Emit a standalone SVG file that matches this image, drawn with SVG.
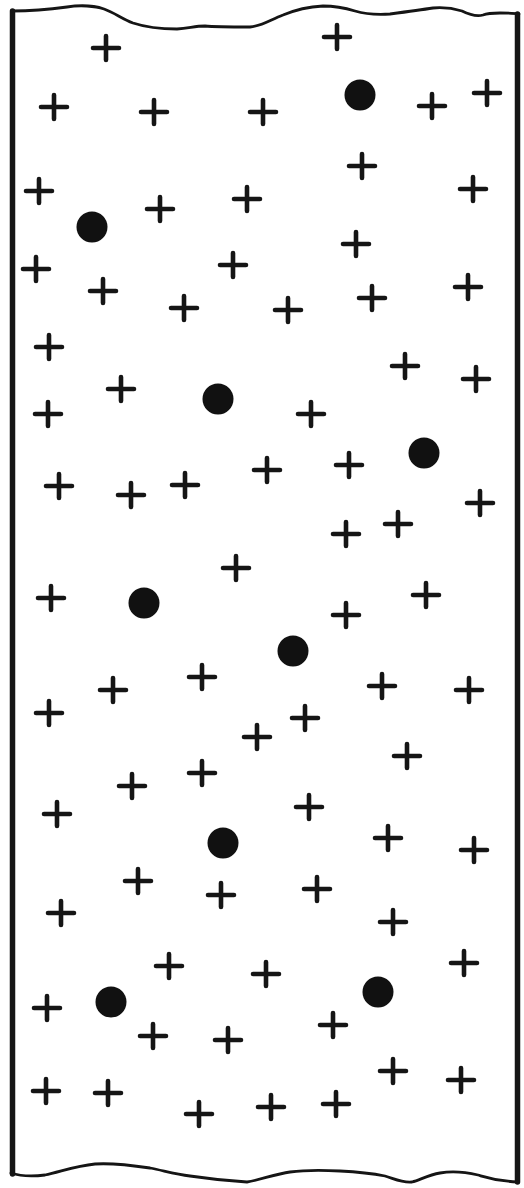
<svg xmlns="http://www.w3.org/2000/svg" xmlns:xlink="http://www.w3.org/1999/xlink" width="524" height="1188" viewBox="0 0 524 1188">
<style>
.edge{fill:none;stroke:#151515;stroke-linecap:round;stroke-linejoin:round}
.side{stroke-width:5.5}
.wave{stroke-width:2.8}
.p{stroke:#151515;stroke-width:4.6;stroke-linecap:round;fill:none}
.dot{fill:#111}
</style>
<defs>
<path id="plus" class="p" d="M-13,0 H13 M0,-12 V12"/>
</defs>
<rect width="524" height="1188" fill="#fff"/>
<g id="strip">
<path class="edge side" d="M12.5,11 V1174"/>
<path class="edge side" d="M517.5,14 V1182"/>
<path class="edge wave" d="M12,11 C30,11 45,10 67,7 C80,5 95,6 104,9 C115,13 122,19 133,23 C145,27 160,29 177,29 C190,28 195,26 205,26 C215,27 235,27 250,27 C262,26 270,20 283,15 C295,10 305,7 323,6 C335,6 345,8 355,11 C365,14 375,15 390,14 C405,12 420,10 433,8 C445,7 452,8 462,11 C468,14 476,17 483,15 C488,13 492,13 500,13 C508,13 514,13 519,14"/>
<path class="edge wave" d="M11,1173 C20,1176 30,1177 45,1175 C60,1172 75,1166 95,1164 C110,1163 130,1165 150,1168 C165,1171 175,1174 190,1176 C210,1179 230,1181 247,1182 C260,1180 275,1174 290,1172 C305,1170 320,1170 340,1171 C360,1172 375,1174 385,1176 C395,1179 402,1183 412,1182 C420,1180 428,1175 440,1173 C452,1171 465,1172 478,1175 C488,1178 496,1181 518,1182"/>
</g>
<g id="plus-charges">
<use xlink:href="#plus" x="106" y="48"/>
<use xlink:href="#plus" x="337" y="37"/>
<use xlink:href="#plus" x="54" y="107"/>
<use xlink:href="#plus" x="154" y="112"/>
<use xlink:href="#plus" x="263" y="112"/>
<use xlink:href="#plus" x="432" y="106"/>
<use xlink:href="#plus" x="487" y="93"/>
<use xlink:href="#plus" x="362" y="166"/>
<use xlink:href="#plus" x="39" y="191"/>
<use xlink:href="#plus" x="473" y="189"/>
<use xlink:href="#plus" x="160" y="209"/>
<use xlink:href="#plus" x="247" y="199"/>
<use xlink:href="#plus" x="36" y="269"/>
<use xlink:href="#plus" x="233" y="265"/>
<use xlink:href="#plus" x="356" y="244"/>
<use xlink:href="#plus" x="103" y="291"/>
<use xlink:href="#plus" x="184" y="308"/>
<use xlink:href="#plus" x="288" y="310"/>
<use xlink:href="#plus" x="372" y="298"/>
<use xlink:href="#plus" x="468" y="287"/>
<use xlink:href="#plus" x="49" y="347"/>
<use xlink:href="#plus" x="405" y="366"/>
<use xlink:href="#plus" x="476" y="379"/>
<use xlink:href="#plus" x="121" y="389"/>
<use xlink:href="#plus" x="48" y="414"/>
<use xlink:href="#plus" x="311" y="414"/>
<use xlink:href="#plus" x="59" y="486"/>
<use xlink:href="#plus" x="131" y="495"/>
<use xlink:href="#plus" x="185" y="485"/>
<use xlink:href="#plus" x="267" y="470"/>
<use xlink:href="#plus" x="349" y="465"/>
<use xlink:href="#plus" x="480" y="503"/>
<use xlink:href="#plus" x="346" y="534"/>
<use xlink:href="#plus" x="398" y="524"/>
<use xlink:href="#plus" x="236" y="568"/>
<use xlink:href="#plus" x="51" y="598"/>
<use xlink:href="#plus" x="426" y="595"/>
<use xlink:href="#plus" x="346" y="615"/>
<use xlink:href="#plus" x="202" y="677"/>
<use xlink:href="#plus" x="113" y="690"/>
<use xlink:href="#plus" x="382" y="686"/>
<use xlink:href="#plus" x="469" y="690"/>
<use xlink:href="#plus" x="49" y="713"/>
<use xlink:href="#plus" x="305" y="718"/>
<use xlink:href="#plus" x="257" y="737"/>
<use xlink:href="#plus" x="407" y="756"/>
<use xlink:href="#plus" x="202" y="773"/>
<use xlink:href="#plus" x="132" y="786"/>
<use xlink:href="#plus" x="57" y="814"/>
<use xlink:href="#plus" x="309" y="807"/>
<use xlink:href="#plus" x="388" y="838"/>
<use xlink:href="#plus" x="474" y="850"/>
<use xlink:href="#plus" x="138" y="881"/>
<use xlink:href="#plus" x="221" y="895"/>
<use xlink:href="#plus" x="317" y="889"/>
<use xlink:href="#plus" x="61" y="913"/>
<use xlink:href="#plus" x="393" y="922"/>
<use xlink:href="#plus" x="169" y="966"/>
<use xlink:href="#plus" x="266" y="974"/>
<use xlink:href="#plus" x="464" y="963"/>
<use xlink:href="#plus" x="47" y="1008"/>
<use xlink:href="#plus" x="153" y="1036"/>
<use xlink:href="#plus" x="228" y="1040"/>
<use xlink:href="#plus" x="333" y="1025"/>
<use xlink:href="#plus" x="393" y="1071"/>
<use xlink:href="#plus" x="461" y="1080"/>
<use xlink:href="#plus" x="46" y="1091"/>
<use xlink:href="#plus" x="108" y="1093"/>
<use xlink:href="#plus" x="199" y="1114"/>
<use xlink:href="#plus" x="271" y="1107"/>
<use xlink:href="#plus" x="336" y="1104"/>
</g>
<g id="dots">
<circle class="dot" cx="360" cy="95" r="15.5"/>
<circle class="dot" cx="92" cy="227" r="15.5"/>
<circle class="dot" cx="218" cy="399" r="15.5"/>
<circle class="dot" cx="424" cy="453" r="15.5"/>
<circle class="dot" cx="144" cy="603" r="15.5"/>
<circle class="dot" cx="293" cy="651" r="15.5"/>
<circle class="dot" cx="223" cy="843" r="15.5"/>
<circle class="dot" cx="111" cy="1002" r="15.5"/>
<circle class="dot" cx="378" cy="992" r="15.5"/>
</g>
</svg>
